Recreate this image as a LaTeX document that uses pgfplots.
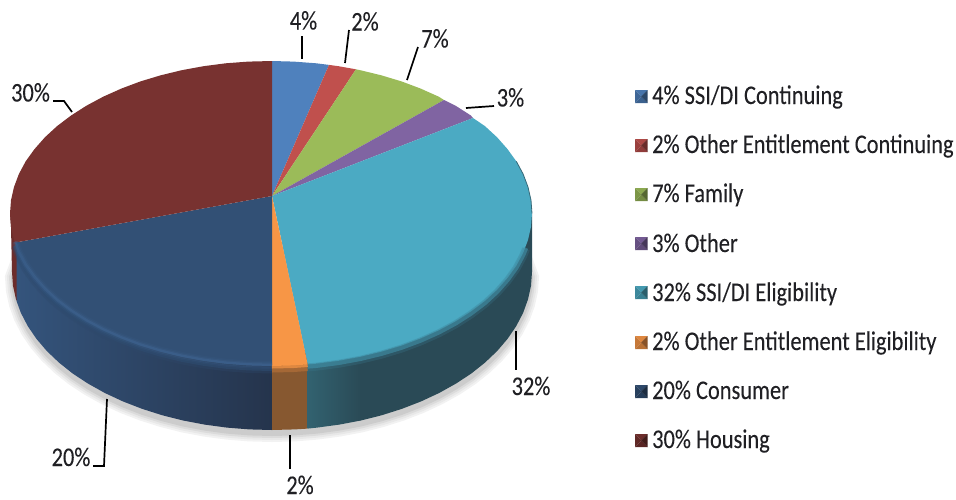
\documentclass[border=0pt]{standalone}
\usepackage{pgfplots}
\pgfplotsset{compat=1.18}
\usepackage{fontspec}
\setmainfont{Carlito}[FakeBold=0.12]
\definecolor{cBlue}{RGB}{79,129,189}
\definecolor{cRed}{RGB}{192,80,77}
\definecolor{cGreen}{RGB}{155,187,89}
\definecolor{cPurple}{RGB}{128,100,162}
\definecolor{cCyan}{RGB}{75,170,195}
\definecolor{cOrange}{RGB}{247,150,70}
\definecolor{cNavy}{RGB}{50,80,117}
\definecolor{cMaroon}{RGB}{120,50,48}
\definecolor{ink}{RGB}{32,32,36}
\newcommand\lab[3]{\node[ink,inner sep=0pt,anchor=base] at (axis cs:#1,#2) {\fontsize{27}{27}\selectfont\scalebox{0.83}[1]{#3}};}
\newcommand\leg[2]{\node[ink,inner sep=0pt,anchor=base west] at (axis cs:652,#1) {\fontsize{27}{27}\selectfont\scalebox{0.83}[1]{#2}};}
\newcommand\swatch[4]{%
\addplot[fill=#4!90!black,draw=none] coordinates {(635,#1) (647.5,#1) (641.2,#2)} --cycle;
\addplot[fill=#4!75!black,draw=none] coordinates {(635,#3) (647.5,#3) (641.2,#2)} --cycle;
\addplot[fill=#4!80!black,draw=none] coordinates {(635,#1) (635,#3) (641.2,#2)} --cycle;
\addplot[fill=#4!55!black,draw=none] coordinates {(647.5,#1) (647.5,#3) (641.2,#2)} --cycle;}
\pgfplotstableread{
x y
22 245
12 272
13 285.8
16 299.4
20.9 312.9
27.7 326
36.4 338.8
46.8 351
59 362.6
72.8 373.6
88.2 383.7
104.9 393
122.9 401.4
142 408.8
162.1 415.2
183.1 420.5
204.7 424.6
226.9 427.6
249.3 429.4
272 430
294.7 429.4
317.1 427.6
339.3 424.6
360.9 420.5
381.9 415.2
402 408.8
421.1 401.4
439.1 393
455.8 383.7
471.2 373.6
485 362.6
497.2 351
507.6 338.8
516.3 326
523.1 312.9
528 299.4
531 285.8
532 272
522 245
}\bottomarc
\pgfplotstableread{
x y
15 242.6
18.9 253
25.7 265.7
34.5 277.9
45 289.8
57.2 301
71.1 311.5
86.4 321.3
103.2 330.3
121.3 338.4
140.5 345.6
160.7 351.7
181.7 356.8
203.5 360.8
225.7 363.7
248.2 365.4
272 366
}\navyrim
\pgfplotstableread{
x y
526 246
523.1 253
516.3 265.7
507.5 277.9
497 289.8
484.8 301
470.9 311.5
455.6 321.3
438.8 330.3
420.7 338.4
401.5 345.6
381.3 351.7
360.3 356.8
338.5 360.8
316.3 363.7
307.7 364.4
}\cyanrim
\begin{document}
\begin{tikzpicture}
\begin{axis}[name=a,
  scale only axis, width=956pt, height=499pt,
  xmin=0, xmax=956, ymin=0, ymax=499, y dir=reverse,
  axis lines=none, clip=false]
% shadow
\addplot[fill=black!5,draw=black!5,line width=14pt,yshift=-5pt] table {\bottomarc} --cycle;
\addplot[fill=black!9,draw=black!9,line width=10pt,yshift=-5pt] table {\bottomarc} --cycle;
\addplot[fill=black!14,draw=black!14,line width=6pt,yshift=-5pt] table {\bottomarc} --cycle;
\addplot[fill=black!20,draw=black!20,line width=2pt,yshift=-5pt] table {\bottomarc} --cycle;
% walls
\addplot[fill=cMaroon!90!black,draw=none] coordinates {(10,213.5) (11,226.8) (12,272) (13,285.8) (16,299.4) (17,301) (17,243) (15,215)} --cycle;
\addplot[shade,shading=axis,left color={rgb,255:red,52;green,84;blue,124},middle color={rgb,255:red,42;green,64;blue,96},right color={rgb,255:red,37;green,52;blue,76},draw=none] coordinates {(16.5,243) (16.5,301) (20.9,312.9) (27.7,326) (36.4,338.8) (46.8,351) (59,362.6) (72.8,373.6) (88.2,383.7) (104.9,393) (122.9,401.4) (142,408.8) (162.1,415.2) (183.1,420.5) (204.7,424.6) (226.9,427.6) (249.3,429.4) (272,430) (272,300)} --cycle;
\addplot[fill={rgb,255:red,135;green,88;blue,48},draw=none] coordinates {(272,350) (272,430) (294.7,429.4) (307.7,428.6) (307.7,350)} --cycle;
\addplot[shade,shading=axis,left color={rgb,255:red,50;green,98;blue,112},right color={rgb,255:red,42;green,74;blue,86},draw=none] coordinates {(307.7,350) (307.7,428.6) (317.1,427.6) (339.3,424.6) (360.9,420.5) (360.9,350)} --cycle;
\addplot[fill={rgb,255:red,42;green,74;blue,86},draw=none] coordinates {(360.5,350) (360.5,420.6) (381.9,415.2) (402,408.8) (421.1,401.4) (439.1,393) (455.8,383.7) (471.2,373.6) (485,362.6) (497.2,351) (507.6,338.8) (516.3,326) (523.1,312.9) (528,299.4) (531,285.8) (532,272) (532,213.5) (450,300)} --cycle;
% top faces
\addplot[fill=cBlue,draw=none] coordinates {(272,196) (272,61) (293.8,61.6) (316.3,63.3) (329,64.9)} --cycle;
\addplot[fill=cRed,draw=none] coordinates {(272,196) (329,64.9) (338.5,66.2) (356,69.3)} --cycle;
\addplot[fill=cGreen,draw=none] coordinates {(272,196) (356,69.3) (360.3,70.2) (381.3,75.3) (401.5,81.4) (420.7,88.6) (438.8,96.7) (444,100)} --cycle;
\addplot[fill=cPurple,draw=none] coordinates {(272,196) (444,100) (455.6,105.7) (470.9,115.5) (473,118)} --cycle;
\addplot[fill=cCyan,draw=none] coordinates {(272,196) (473,118) (484.8,126) (497,137.2) (507.5,149.1) (516.3,161.3) (523.1,174) (528,187) (531,200.2) (532,213.5) (531,226.8) (528,240) (523.1,253) (516.3,265.7) (507.5,277.9) (497,289.8) (484.8,301) (470.9,311.5) (455.6,321.3) (438.8,330.3) (420.7,338.4) (401.5,345.6) (381.3,351.7) (360.3,356.8) (338.5,360.8) (316.3,363.7) (307.7,364.4)} --cycle;
\addplot[fill=cOrange,draw=none] coordinates {(272,196) (307.7,364.4) (293.8,365.4) (272,366)} --cycle;
\addplot[fill=cNavy,draw=none] coordinates {(272,196) (272,366) (248.2,365.4) (225.7,363.7) (203.5,360.8) (181.7,356.8) (160.7,351.7) (140.5,345.6) (121.3,338.4) (103.2,330.3) (86.4,321.3) (71.1,311.5) (57.2,301) (45,289.8) (34.5,277.9) (25.7,265.7) (18.9,253) (15,242.6)} --cycle;
\addplot[fill=cMaroon,draw=none] coordinates {(272,196) (15,242.6) (14,240) (11,226.8) (10,213.5) (11,200.2) (14,187) (18.9,174) (25.7,161.3) (34.5,149.1) (45,137.2) (57.2,126) (71.1,115.5) (86.4,105.7) (103.2,96.7) (121.3,88.6) (140.5,81.4) (160.7,75.3) (181.7,70.2) (203.5,66.2) (225.7,63.3) (248.2,61.6) (272,61)} --cycle;
% rim blends: wall side, then soft highlight
\addplot[draw={rgb,255:red,46;green,72;blue,106},line width=7pt,opacity=.35,yshift=-4pt] table {\navyrim};
\addplot[draw={rgb,255:red,46;green,76;blue,112},line width=4pt,opacity=.6,yshift=-3pt] table {\navyrim};
\addplot[draw={rgb,255:red,62;green,100;blue,146},line width=8pt,opacity=.12,yshift=1pt] table {\navyrim};
\addplot[draw={rgb,255:red,66;green,106;blue,154},line width=5pt,opacity=.2,yshift=1pt] table {\navyrim};
\addplot[draw={rgb,255:red,70;green,112;blue,160},line width=2.5pt,opacity=.3,yshift=1pt] table {\navyrim};
\addplot[draw={rgb,255:red,58;green,120;blue,140},line width=8pt,opacity=.3,yshift=-3pt] table {\cyanrim};
\addplot[draw={rgb,255:red,65;green,145;blue,168},line width=4.5pt,opacity=.6,yshift=-2pt] table {\cyanrim};
\addplot[draw={rgb,255:red,190;green,118;blue,60},line width=6pt,opacity=.55] coordinates {(272,369.5) (293.8,369) (307.7,368)};
\addplot[draw=cOrange,line width=3pt,opacity=.7] coordinates {(272,367) (293.8,366.5) (307.7,365.5)};
\addplot[draw={rgb,255:red,55;green,105;blue,120},line width=0.8pt] coordinates {(516.3,161.3) (523.1,174) (528,187) (531,200.2) (532,213.5)};
% leaders
\addplot[black,line width=1.7pt] coordinates {(302,36) (302,59)};
\addplot[black,line width=1.7pt] coordinates {(349,30) (345,63)};
\addplot[black,line width=1.7pt] coordinates {(418,47) (407,80)};
\addplot[black,line width=1.7pt] coordinates {(494,106) (466,108)};
\addplot[black,line width=1.7pt] coordinates {(53,101) (64,101) (72,112)};
\addplot[black,line width=1.7pt] coordinates {(93,466) (104,466) (107,399)};
\addplot[black,line width=1.7pt] coordinates {(290,435) (290,469)};
\addplot[black,line width=1.7pt] coordinates {(516,331) (516,370)};
% labels
\lab{303.5}{29.5}{4\%}
\lab{365}{30.5}{2\%}
\lab{435}{47.5}{7\%}
\lab{510.5}{106.5}{3\%}
\lab{30.5}{101.5}{30\%}
\lab{71}{466}{20\%}
\lab{300}{494}{2\%}
\lab{531}{395}{32\%}
% legend
\swatch{90}{96.5}{103}{cBlue}
\swatch{139}{145.5}{152}{cRed}
\swatch{188}{194.5}{201}{cGreen}
\swatch{237}{243.5}{250}{cPurple}
\swatch{286}{292.5}{299}{cCyan}
\swatch{336}{342.5}{349}{cOrange}
\swatch{385}{391.5}{398}{cNavy}
\swatch{434}{440.5}{447}{cMaroon}
\leg{104}{4\% SSI/DI Continuing}
\leg{153}{2\% Other Entitlement Continuing}
\leg{202}{7\% Family}
\leg{252}{3\% Other}
\leg{301}{32\% SSI/DI Eligibility}
\leg{350}{2\% Other Entitlement Eligibility}
\leg{399}{20\% Consumer}
\leg{448}{30\% Housing}
\end{axis}
\pgfresetboundingbox
\path[use as bounding box] (a.south west) rectangle (a.north east);
\end{tikzpicture}
\end{document}
